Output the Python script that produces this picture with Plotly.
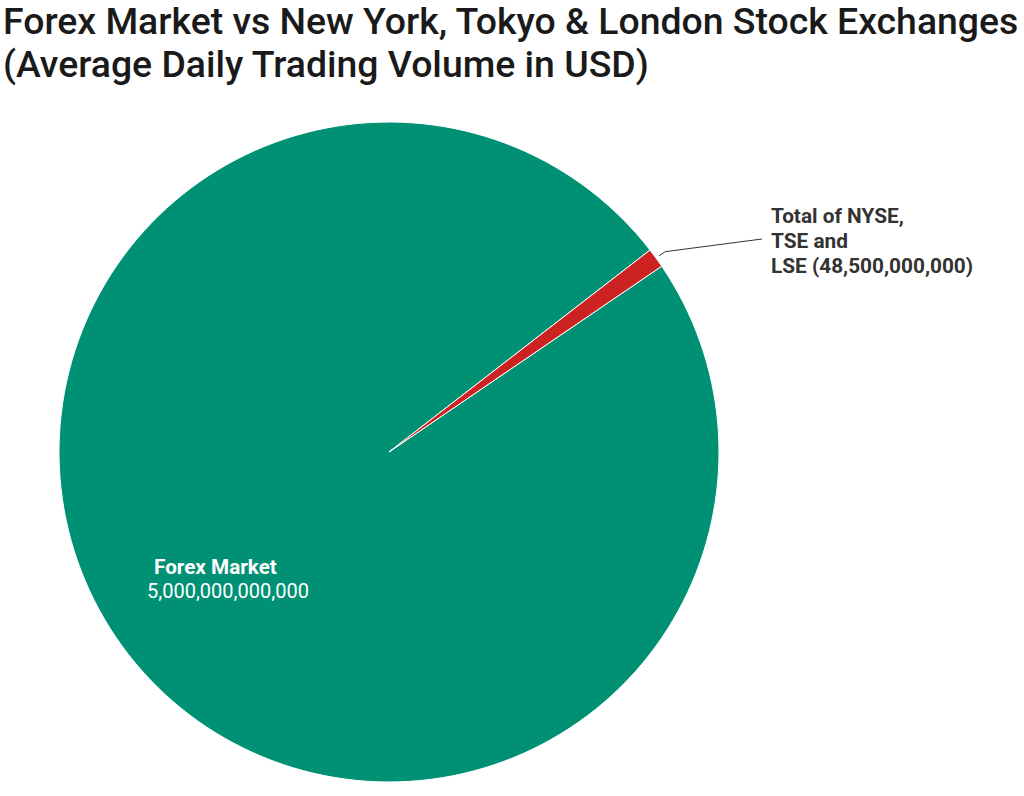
import math
import plotly.graph_objects as go

# Data
labels = ["Forex Market", "Total of NYSE, TSE and LSE"]
values = [5_000_000_000_000, 48_500_000_000]
colors = ["#009174", "#CC2222"]
title_lines = ["Forex Market vs New York, Tokyo & London Stock Exchanges",
               "(Average Daily Trading Volume in USD)"]
small_label_lines = ["Total of NYSE,", "TSE and", "LSE (48,500,000,000)"]

W, H = 1024, 796
cx, cy, R = 389, 452, 330  # pie geometry in screen pixels
mid_clock = 54.0  # clock angle of small slice middle

total = sum(values)
small_frac = values[1] / total
rotation = mid_clock + 180 * small_frac

def px(x):
    return x / W

def py(y):
    return 1 - y / H

fig = go.Figure(go.Pie(
    labels=labels,
    values=values,
    sort=False,
    direction="clockwise",
    rotation=rotation,
    marker=dict(colors=colors, line=dict(color="white", width=1)),
    textinfo="none",
    hoverinfo="label+value",
    domain=dict(x=[px(cx - R), px(cx + R)], y=[py(cy + R), py(cy - R)]),
    showlegend=False,
))

annotations = []
# Title
for i, t in enumerate(title_lines):
    annotations.append(dict(
        text=t, x=px(1), y=py(21 + 43 * i), xref="paper", yref="paper",
        xanchor="left", yanchor="middle", showarrow=False,
        font=dict(family="Roboto", size=37.4, color="#1a1a1a", weight=500)))

# Big slice label
annotations.append(dict(
    text="<b>%s</b>" % labels[0], x=px(215.5), y=py(567), xref="paper", yref="paper",
    xanchor="center", yanchor="middle", showarrow=False,
    font=dict(family="Roboto", size=20.7, color="white")))
annotations.append(dict(
    text=f"{values[0]:,}", x=px(227.5), y=py(591), xref="paper", yref="paper",
    xanchor="center", yanchor="middle", showarrow=False,
    font=dict(family="Roboto", size=20, color="white")))

# Small slice label
for i, t in enumerate(small_label_lines):
    annotations.append(dict(
        text="<b>%s</b>" % t, x=px(769), y=py(216 + 25 * i), xref="paper", yref="paper",
        xanchor="left", yanchor="middle", showarrow=False,
        font=dict(family="Roboto", size=20.8, color="#333333")))

# Leader line from slice edge
ang = math.radians(90 - mid_clock)
sx = cx + (R + 4) * math.cos(ang)
sy = cy - (R + 4) * math.sin(ang)
shapes = [
    dict(type="line", xref="paper", yref="paper",
         x0=px(sx), y0=py(sy), x1=px(sx + 6), y1=py(sy - 4),
         line=dict(color="#333333", width=1)),
    dict(type="line", xref="paper", yref="paper",
         x0=px(sx + 6), y0=py(sy - 4), x1=px(762), y1=py(239),
         line=dict(color="#333333", width=1)),
]

fig.update_layout(
    width=W, height=H,
    margin=dict(l=0, r=0, t=0, b=0),
    paper_bgcolor="white",
    plot_bgcolor="white",
    annotations=annotations,
    shapes=shapes,
)

fig.write_html(
    "out.html",
    config={"displayModeBar": False},
    post_script="document.body.style.margin='0';document.body.style.overflow='hidden';",
)
